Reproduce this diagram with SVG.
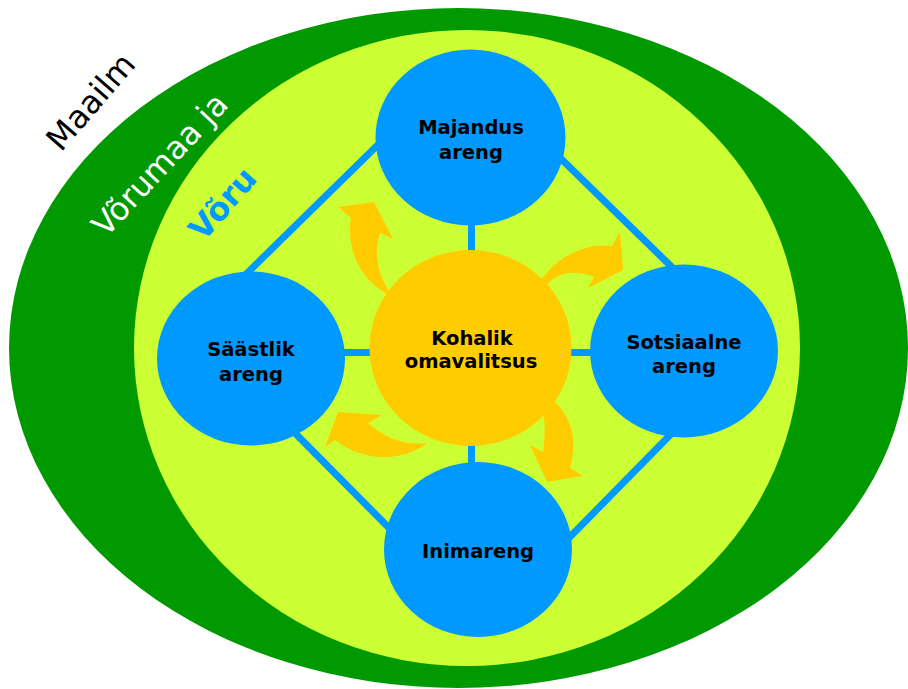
<svg xmlns="http://www.w3.org/2000/svg" width="908" height="689" viewBox="0 0 908 689">
<style>
.lbl{font-family:"DejaVu Sans","Liberation Sans",sans-serif;font-weight:bold;font-size:19.5px;fill:#000;text-anchor:middle}
.ring{font-family:"DejaVu Sans","Liberation Sans",sans-serif;font-size:32px;text-anchor:middle}
.blue{fill:#0099FF}
.line{stroke:#0099FF;stroke-width:7;fill:none}
.arrow{fill:#FFCC00}
</style>
<rect width="908" height="689" fill="#fff"/>
<g id="world">
<ellipse cx="458.5" cy="348" rx="449.5" ry="340" fill="#009900"/>
<text class="ring" fill="#000" transform="translate(99,109) rotate(-49)">Maailm</text>
</g>
<g id="county">
<ellipse cx="467" cy="348" rx="333" ry="318" fill="#CCFF33"/>
<text class="ring" fill="#fff" transform="translate(168,172) rotate(-47)">Võrumaa ja</text>
<text class="ring" fill="#0099FF" font-weight="bold" transform="translate(231,211) rotate(-49)">Võru</text>
</g>
<g id="connectors">
<line class="line" x1="390" y1="133" x2="236" y2="284"/>
<line class="line" x1="550" y1="148" x2="680" y2="275"/>
<line class="line" x1="678" y1="427" x2="562" y2="545"/>
<line class="line" x1="287" y1="425" x2="398" y2="537"/>
<line class="line" x1="471.5" y1="215" x2="471.5" y2="260"/>
<line class="line" x1="471.5" y1="440" x2="471.5" y2="470"/>
<line class="line" x1="335" y1="352.5" x2="380" y2="352.5"/>
<line class="line" x1="560" y1="352.5" x2="600" y2="352.5"/>
</g>
<g id="arrows">
<path class="arrow" d="M351,218 C346,245 358,282 392,296 C378,275 373,255 380,233 L393,239 L374,202 L338,207 Z"/>
<path class="arrow" d="M538,285 C558,252 590,243 612,246 L620,232 L623,270 L588,288 L594,277 C578,270 556,270 545,288 Z"/>
<path class="arrow" d="M338,412 L382,415 L368,423 C385,438 405,446 428,443 L437,434 C415,460 370,467 335,440 L325,447 Z"/>
<path class="arrow" d="M547,482 L530,445 L543,452 C546,430 545,415 540,403 L550,398 C572,415 578,440 570,468 L583,476 Z"/>
</g>
<g id="majandus">
<ellipse class="blue" cx="470.5" cy="137.5" rx="95" ry="88"/>
<text class="lbl" x="471" y="134">Majandus</text>
<text class="lbl" x="471" y="159">areng</text>
</g>
<g id="saastlik">
<ellipse class="blue" cx="251" cy="358.5" rx="94" ry="87"/>
<text class="lbl" x="251" y="356">Säästlik</text>
<text class="lbl" x="251" y="381">areng</text>
</g>
<g id="sotsiaalne">
<ellipse class="blue" cx="684" cy="351" rx="94" ry="86.5"/>
<text class="lbl" x="684" y="349">Sotsiaalne</text>
<text class="lbl" x="684" y="373">areng</text>
</g>
<g id="inimareng">
<ellipse class="blue" cx="478" cy="549.5" rx="94" ry="87.5"/>
<text class="lbl" x="478" y="558">Inimareng</text>
</g>
<g id="kohalik">
<ellipse cx="470.5" cy="348" rx="101" ry="98" fill="#FFCC00"/>
<text class="lbl" x="472" y="345">Kohalik</text>
<text class="lbl" x="471" y="368">omavalitsus</text>
</g>
</svg>
